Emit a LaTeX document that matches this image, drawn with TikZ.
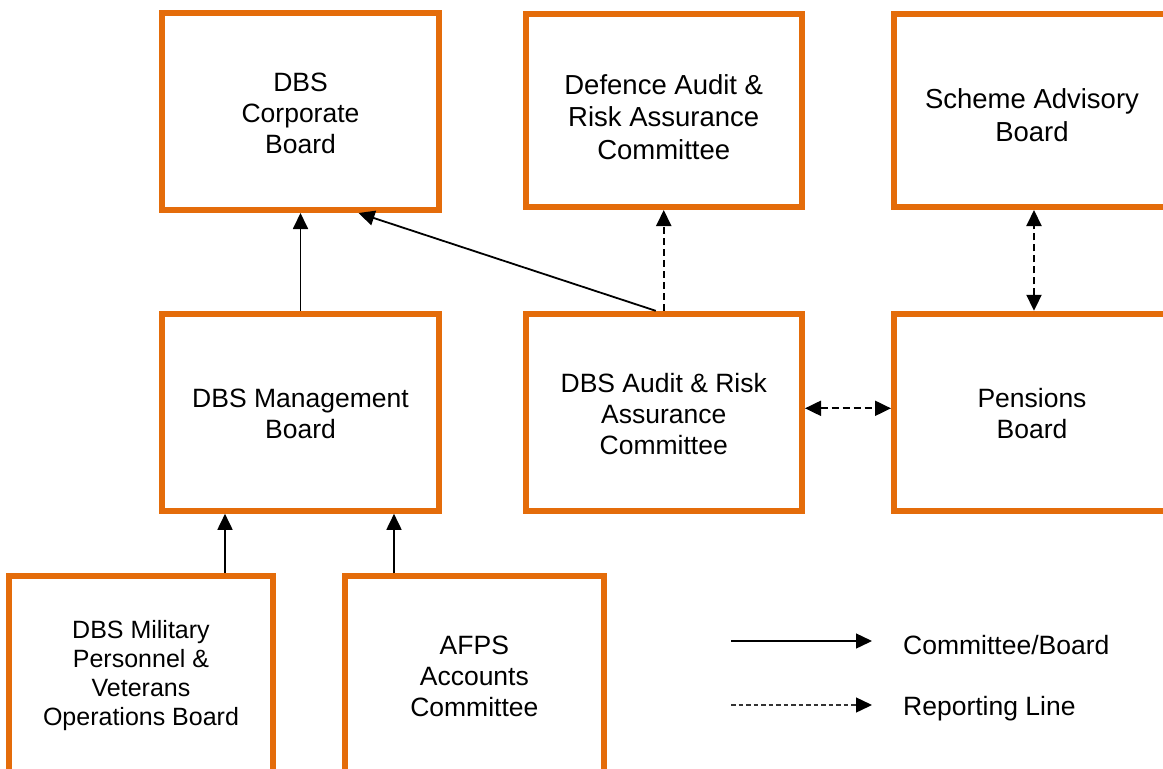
\documentclass[tikz,border=0pt]{standalone}
\usepackage{fontspec}
\setmainfont{Liberation Sans}
\usetikzlibrary{arrows.meta,calc}
\definecolor{boxorange}{RGB}{228,108,10}
\begin{document}
\begin{tikzpicture}[x=1pt,y=-1pt,
  box/.style={draw=boxorange, line width=6pt, fill=white, inner sep=0pt},
  txt/.style={font=\fontsize{26.5pt}{31pt}\selectfont, align=center, inner sep=0pt},
  txtbig/.style={font=\fontsize{27.5pt}{32.5pt}\selectfont, align=center, inner sep=0pt},
  txtsmall/.style={font=\fontsize{25pt}{29pt}\selectfont, align=center, inner sep=0pt},
  tipA/.tip={Triangle[length=16pt,width=15pt]},
  solidarr/.style={line width=1.8pt, -tipA},
  dasharr/.style={line width=2pt, dash pattern=on 7pt off 4pt, -tipA},
  dbldash/.style={line width=2pt, dash pattern=on 7pt off 4pt, tipA-tipA},
  legsolid/.style={line width=1.4pt, -tipA},
  legdash/.style={line width=1.4pt, black!80, dash pattern=on 4.5pt off 3pt, -{Triangle[length=16pt,width=15pt,color=black]}}
]
\useasboundingbox (0,0) rectangle (1163,769);
\clip (0,0) rectangle (1163,769);
\fill[white] (0,0) rectangle (1163,769);

% boxes
\node[box, minimum width=277pt, minimum height=197pt] (corp) at (300.5,111.5) {};
\node[box, minimum width=276.5pt, minimum height=193pt] (def) at (663.75,110.5) {};
\node[box, minimum width=276pt, minimum height=193pt] (scheme) at (1032,110.5) {};
\node[box, minimum width=277pt, minimum height=197pt] (mgmt) at (300.5,412.3) {};
\node[box, minimum width=276.5pt, minimum height=197pt] (audit) at (663.75,412.3) {};
\node[box, minimum width=276pt, minimum height=197pt] (pens) at (1032,412.3) {};
\node[box, minimum width=264pt, minimum height=220pt] (mil) at (141,686) {};
\node[box, minimum width=259.3pt, minimum height=220pt] (afps) at (474.35,686) {};

% texts
\node[txt] (corpT) at (300.5,113) {DBS\\Corporate\\Board};
\node[txtbig] (defT) at (663.75,117) {Defence Audit \&\\Risk Assurance\\Committee};
\node[txtbig] (schemeT) at (1032,115) {Scheme Advisory\\Board};
\node[txt] (mgmtT) at (300.5,413.5) {DBS Management\\Board};
\node[txt] (auditT) at (663.75,414) {DBS Audit \& Risk\\Assurance\\Committee};
\node[txt] (pensT) at (1032,413.5) {Pensions\\Board};
\node[txtsmall] (milT) at (141,676) {DBS Military\\Personnel \&\\Veterans\\Operations Board};
\node[txt] (afpsT) at (474.35,676) {AFPS\\Accounts\\Committee};

% connectors
\draw[solidarr] (mgmt.north) -- (corp.south);
\draw[solidarr] ([xshift=-8pt]audit.north) -- ([xshift=58pt]corp.south);
\draw[dasharr] (audit.north) -- (def.south);
\draw[dbldash] ([xshift=2pt]pens.north) -- ([xshift=2pt]scheme.south);
\draw[dbldash] ([yshift=4pt]audit.east) -- ([yshift=4pt]pens.west);
\coordinate (milTop) at ([xshift=84pt]mil.north);
\coordinate (afpsTop) at ([xshift=-80.35pt]afps.north);
\draw[solidarr] (milTop) -- (milTop |- mgmt.south);
\draw[solidarr] (afpsTop) -- (afpsTop |- mgmt.south);

% legend
\coordinate (la1) at (731,641);
\coordinate (la2) at (872,641);
\coordinate (lb1) at (731,705);
\coordinate (lb2) at (872,705);
\draw[legsolid] (la1) -- (la2);
\draw[legdash] (lb1) -- (lb2);
\node[txt, anchor=base west] (legA) at (903,654.5) {Committee/Board};
\node[txt, anchor=base west] (legB) at (903,715.5) {Reporting Line};
\end{tikzpicture}
\end{document}
